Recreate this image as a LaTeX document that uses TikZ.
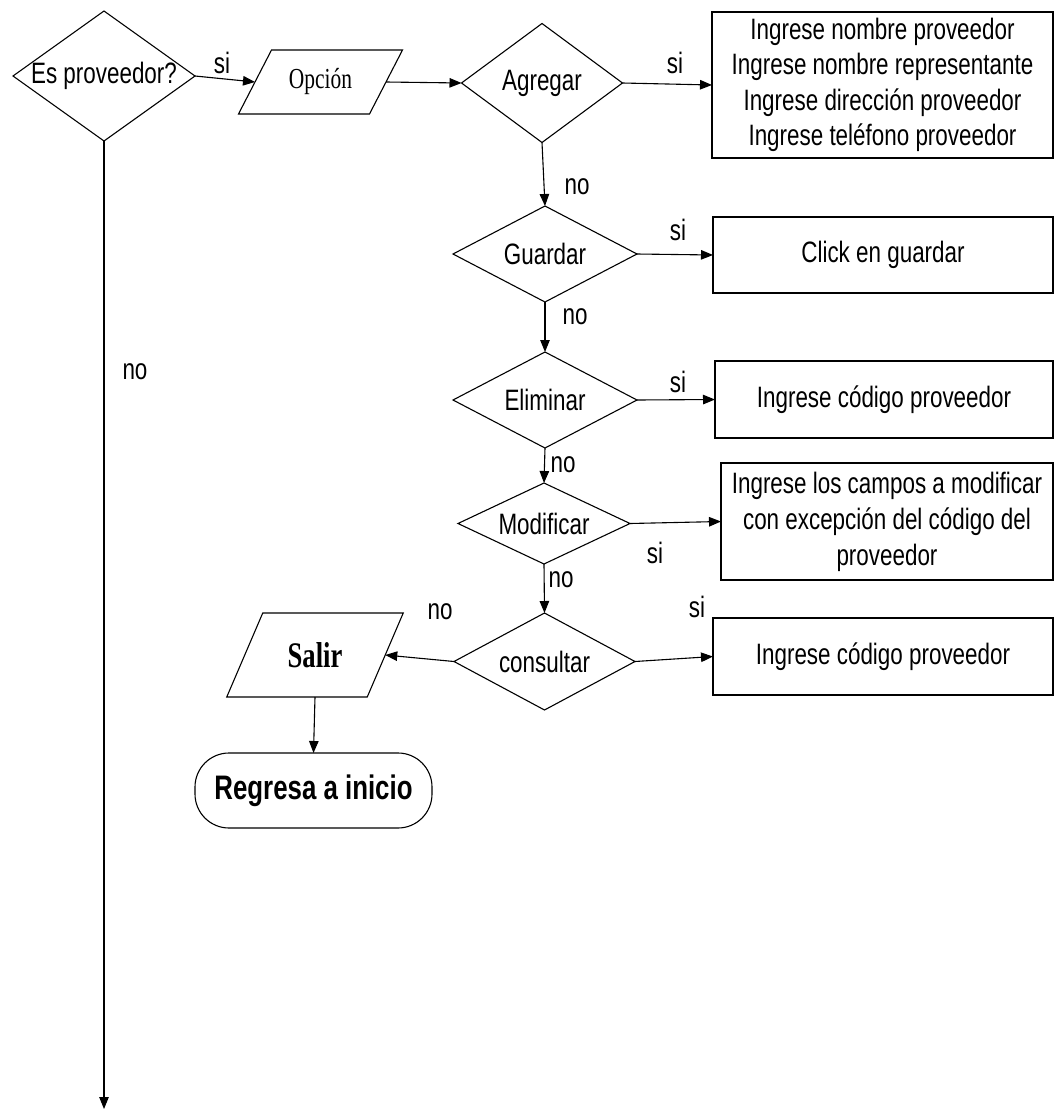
\documentclass[tikz,border=0pt]{standalone}
\usepackage{fontspec}
\usetikzlibrary{shapes.geometric,arrows.meta}
\newfontfamily\flowsans{Liberation Sans}[FakeStretch=0.76]
\newfontfamily\flowsansbold{Liberation Sans Bold}[FakeStretch=0.76]
\newfontfamily\flowserif{Liberation Serif}[FakeStretch=0.74]
\newfontfamily\flowserifbold{Liberation Serif Bold}[FakeStretch=0.74]
\begin{document}
\begin{tikzpicture}[x=1pt,y=-1pt,
  every node/.style={inner sep=0pt,outer sep=0pt},
  txt/.style={font=\flowsans\fontsize{29.5}{35.5}\selectfont},
  decision/.style={diamond,draw,line width=1.1pt,txt},
  stepbox/.style={rectangle,draw,line width=1.3pt,txt,align=center},
  iobox/.style={rectangle},
  shapeline/.style={line width=1.1pt,line join=miter},
  flow/.style={-{Triangle[length=12pt,width=9.5pt]},line width=1.1pt},
  lbl/.style={txt}]
\useasboundingbox (0,0) rectangle (1060,1111);

% decision chain
\node[decision,minimum width=182pt,minimum height=130pt] (ep) at (104,76) {\makebox[0pt]{Es proveedor?}};
\node[decision,minimum width=161pt,minimum height=119pt] (ag) at (542,83) {\makebox[0pt]{Agregar}};
\node[decision,minimum width=184pt,minimum height=96pt] (gu) at (545,254) {\makebox[0pt]{Guardar}};
\node[decision,minimum width=184pt,minimum height=96pt] (el) at (545,400) {\makebox[0pt]{Eliminar}};
\node[decision,minimum width=172pt,minimum height=81pt] (mo) at (544,523.5) {\makebox[0pt]{Modificar}};
\node[decision,minimum width=181pt,minimum height=97pt] (co) at (544.5,661.5) {\makebox[0pt]{consultar}};

% input/output parallelograms
\node[iobox,minimum width=131pt,minimum height=64pt,font=\flowserif\fontsize{29}{34}\selectfont] (op) at (320.5,82) {Opción};
\draw[shapeline] ([xshift=-16.5pt]op.south west) -- ([xshift=16.5pt]op.north west)
  -- ([xshift=16.5pt]op.north east) -- ([xshift=-16.5pt]op.south east) -- cycle;
\node[iobox,minimum width=140.5pt,minimum height=84pt,font=\flowserifbold\fontsize{36}{40}\selectfont] (sa) at (315,655) {Salir};
\draw[shapeline] ([xshift=-18pt]sa.south west) -- ([xshift=18pt]sa.north west)
  -- ([xshift=18pt]sa.north east) -- ([xshift=-18pt]sa.south east) -- cycle;

% terminator
\node[draw,line width=1.1pt,rounded corners=34pt,minimum width=237pt,minimum height=75pt,
  font=\flowsansbold\fontsize{34}{40}\selectfont] (rg) at (313.5,790.5) {Regresa a inicio};

% action boxes
\node[stepbox,minimum width=341pt,minimum height=146pt] (b1) at (882.5,85)
  {Ingrese nombre proveedor\\Ingrese nombre representante\\Ingrese dirección proveedor\\Ingrese teléfono proveedor};
\node[stepbox,minimum width=340pt,minimum height=76pt] (b2) at (883,255) {Click en guardar};
\node[stepbox,minimum width=338pt,minimum height=77pt] (b3) at (884,399.5) {Ingrese código proveedor};
\node[stepbox,minimum width=332pt,minimum height=117pt,font=\flowsans\fontsize{29.5}{36}\selectfont] (b4) at (887,521.5)
  {Ingrese los campos a modificar\\con excepción del código del\\proveedor};
\node[stepbox,minimum width=340pt,minimum height=77pt] (b5) at (883,656.5) {Ingrese código proveedor};

\coordinate (end) at (104,1109);

% connectors
\draw[flow] (ep.east) -- (op.west);
\draw[flow] (op.east) -- (ag.west);
\draw[flow] (ag.east) -- (b1.west);
\draw[flow] (ag.south) -- (gu.north);
\draw[flow] (gu.east) -- (b2.west);
\draw[flow] (gu.south) -- (el.north);
\draw[flow] (el.east) -- (b3.west);
\draw[flow] (el.south) -- (mo.north);
\draw[flow] (mo.east) -- (b4.west);
\draw[flow] (mo.south) -- (co.north);
\draw[flow] (co.east) -- (b5.west);
\draw[flow] (co.west) -- (sa.east);
\draw[flow] (sa.south) -- (rg.north);
\draw[flow] (ep.south) -- (end);

% branch labels
\node[lbl] (l1) at (222,63) {si};
\node[lbl] (l2) at (675,63) {si};
\node[lbl] (l3) at (577,187) {no};
\node[lbl] (l4) at (678,230) {si};
\node[lbl] (l5) at (575,317) {no};
\node[lbl] (l6) at (678,382) {si};
\node[lbl] (l7) at (563,465) {no};
\node[lbl] (l8) at (655,553) {si};
\node[lbl] (l9) at (561,580) {no};
\node[lbl] (l10) at (697,607) {si};
\node[lbl] (l11) at (440,612) {no};
\node[lbl] (l12) at (135,372) {no};
\end{tikzpicture}
\end{document}
